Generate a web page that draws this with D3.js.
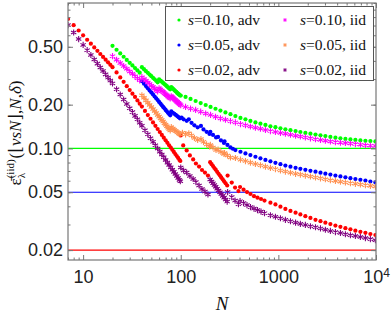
<!DOCTYPE html>
<html>
<head>
<meta charset="utf-8">
<script src="https://cdn.jsdelivr.net/npm/d3@7"></script>
<style>
  body { margin: 0; background: #fff; }
  .tick-label text { font-family: "Liberation Sans", Arial, sans-serif; font-size: 18px; fill: #222; }
  .frame-axis line { stroke: #777; stroke-width: 1; }
  .frame-axis path { display: none; }
</style>
</head>
<body>
<svg id="chart"></svg>
<script>
// eps bound vs N (N, epsilon)
const advS10 = [[20,0.508],[22,0.477],[24,0.450],[26,0.427],[28,0.406],[30,0.388],[32,0.372],[34,0.357],[36,0.344],[38,0.332],
  [40,0.362],[42,0.351],[44,0.340],[46,0.331],[48,0.322],[50,0.314],[52,0.306],[54,0.299],[56,0.292],[58,0.285],
  [60,0.299],[62,0.293],[64,0.288],[66,0.282],[68,0.277],[70,0.273],[72,0.268],[74,0.263],[76,0.259],[78,0.255],
  [80,0.264],[82,0.260],[84,0.256],[86,0.252],[88,0.248],[90,0.245],[92,0.241],[94,0.238],[96,0.235],[98,0.232],
  [100,0.231],[112,0.226],[126,0.219],[142,0.212],[160,0.205],[180,0.199],[202,0.193],[227,0.1875],[255,0.182],[287,0.177],
  [323,0.172],[363,0.167],[409,0.162],[460,0.1585],[517,0.1545],[582,0.151],[655,0.148],[737,0.145],[829,0.142],[933,0.140],
  [1050,0.1376],[1180,0.1354],[1330,0.1335],[1500,0.1316],[1680,0.1297],[1890,0.1279],[2130,0.1263],[2400,0.1245],[2700,0.1231],[3030,0.1216],
  [3410,0.1200],[3840,0.1185],[4320,0.1174],[4860,0.1163],[5470,0.1154],[6150,0.1145],[6920,0.1135],[7790,0.1128],[8760,0.1123],[9860,0.1118]];

const advS05 = [[40,0.290],[42,0.279],[44,0.2685],[46,0.259],[48,0.250],[50,0.242],[52,0.235],[54,0.2275],[56,0.221],[58,0.215],
  [60,0.209],[62,0.2035],[64,0.198],[66,0.193],[68,0.189],[70,0.184],[72,0.180],[74,0.176],[76,0.1725],[78,0.169],
  [80,0.180],[83,0.176],[86,0.173],[89,0.170],[92,0.167],[95,0.164],[98,0.161],
  [102,0.163],[107,0.1585],[115,0.1548],[121,0.1585],[129,0.1499],[138,0.1441],[149,0.1396],[161,0.1429],[171,0.1352],[184,0.1300],
  [197,0.1259],[201,0.1300],[214,0.1239],[230,0.1191],[241,0.1200],[258,0.1135],[277,0.1091],[281,0.1118],[301,0.1057],[323,0.1016],[342,0.0995],
  [363,0.0975],[409,0.0949],[460,0.0924],[517,0.0900],[582,0.0877],[655,0.0855],[737,0.0834],[829,0.0815],[933,0.0797],[1050,0.0779],
  [1180,0.0762],[1330,0.0749],[1500,0.0736],[1680,0.0724],[1890,0.0713],[2130,0.0702],[2400,0.0692],[2700,0.0681],[3030,0.0671],[3410,0.0661],
  [3840,0.0651],[4320,0.0642],[4860,0.0633],[5470,0.0625],[6150,0.0616],[6920,0.0608],[7790,0.0601],[8760,0.0592],[9860,0.0584]];

const advS02 = [[7,0.776],[8,0.704],[9,0.647],[10,0.599],[11,0.559],[12,0.525],[13,0.495],[14,0.469],[15,0.446],[16,0.426],
  [17,0.408],[18,0.391],[19,0.376],[20,0.362],[22,0.333],[24,0.308],[26,0.287],[28,0.268],[30,0.252],[32,0.238],
  [34,0.226],[36,0.214],[38,0.203],[40,0.194],[43,0.181],[46,0.1695],[49,0.160],[52,0.151],[55,0.143],[58,0.136],
  [61,0.1297],[64,0.1239],[67,0.1186],[70,0.1138],[73,0.1093],[76,0.1052],[79,0.1014],[82,0.0979],[85,0.0946],[88,0.0915],
  [91,0.0887],[94,0.0860],[97,0.0834],[99,0.082],
  [100,0.1229],[106,0.1049],[115,0.0969],[124,0.0895],[134,0.0840],[143,0.0788],[154,0.0751],[165,0.0711],[177,0.0683],[190,0.0651],
  [200,0.0805],[207,0.0780],[214,0.0756],[221,0.0734],[228,0.0714],[236,0.0691],[244,0.0670],[252,0.0651],[260,0.0632],[269,0.0613],
  [278,0.0594],[288,0.0576],[299,0.0556],
  [302,0.0651],[333,0.0583],[360,0.0538],[390,0.0509],
  [405,0.0543],[440,0.0521],[477,0.0501],[518,0.0486],[563,0.0470],[611,0.0459],[664,0.0449],[721,0.0438],
  [829,0.0424],[933,0.0412],[1050,0.0398],[1180,0.0384],[1330,0.0372],[1500,0.0362],[1680,0.0352],[1890,0.0342],[2130,0.0333],[2400,0.0323],
  [2700,0.0316],[3030,0.0309],[3410,0.0302],[3840,0.0295],[4320,0.0289],[4860,0.0283],[5470,0.0278],[6150,0.0272],[6920,0.0267],[7790,0.0263],
  [8760,0.0258],[9860,0.0254]];

const iidS10 = [[20,0.431],[22,0.407],[24,0.387],[26,0.369],[28,0.353],[30,0.338],[32,0.326],[34,0.314],[36,0.304],[38,0.294],
  [40,0.309],[42,0.300],[44,0.292],[46,0.284],[48,0.277],[50,0.270],[52,0.264],[54,0.258],[56,0.252],[58,0.247],
  [60,0.259],[62,0.254],[64,0.249],[66,0.244],[68,0.240],[70,0.236],[72,0.232],[74,0.228],[76,0.224],[78,0.221],
  [80,0.228],[82,0.225],[84,0.221],[86,0.218],[88,0.215],[90,0.212],[92,0.209],[94,0.206],[96,0.204],[98,0.201],
  [100,0.198],[112,0.193],[126,0.188],[142,0.184],[160,0.179],[180,0.174],[202,0.170],[227,0.165],[255,0.161],[287,0.1575],
  [323,0.154],[363,0.151],[409,0.147],[460,0.1443],[517,0.1416],[582,0.1389],[655,0.1365],[737,0.1339],[829,0.1316],[933,0.1297],
  [1050,0.1279],[1180,0.1261],[1330,0.1243],[1500,0.1223],[1680,0.1208],[1890,0.1191],[2130,0.1174],[2400,0.1157],[2700,0.1145],[3030,0.1130],
  [3410,0.1116],[3840,0.1105],[4320,0.1096],[4860,0.1090],[5470,0.1081],[6150,0.1071],[6920,0.1062],[7790,0.1052],[8760,0.1045],[9860,0.1041]];

const iidS05 = [[40,0.232],[42,0.223],[44,0.214],[46,0.2065],[48,0.199],[50,0.193],[52,0.1865],[54,0.181],[56,0.175],[58,0.170],
  [60,0.1655],[62,0.161],[64,0.157],[66,0.153],[68,0.149],[70,0.1456],[72,0.142],[74,0.139],[76,0.136],[78,0.133],
  [80,0.140],[83,0.137],[86,0.134],[89,0.132],[92,0.129],[95,0.127],[98,0.125],
  [104,0.128],[112,0.125],[121,0.127],[129,0.1229],[138,0.118],[149,0.1145],[161,0.116],[171,0.111],[184,0.1066],
  [197,0.1032],[201,0.1057],[214,0.1016],[230,0.0976],[241,0.0984],[258,0.0946],[277,0.0916],[281,0.0931],[301,0.0895],[323,0.0867],
  [363,0.0859],[409,0.0837],[460,0.0819],[517,0.0799],[582,0.0782],[655,0.0766],[737,0.0750],[829,0.0735],[933,0.0721],[1050,0.0706],
  [1180,0.0693],[1330,0.0681],[1500,0.0669],[1680,0.0661],[1890,0.0651],[2130,0.0641],[2400,0.0632],[2700,0.0623],[3030,0.0614],[3410,0.0605],
  [3840,0.0598],[4320,0.0590],[4860,0.0584],[5470,0.0577],[6150,0.0571],[6920,0.0565],[7790,0.0559],[8760,0.0553],[9860,0.0547]];

const iidS02 = [[7,0.705],[8,0.627],[9,0.565],[10,0.515],[11,0.474],[12,0.439],[13,0.409],[14,0.383],[15,0.3605],[16,0.3405],
  [17,0.323],[18,0.307],[19,0.2927],[20,0.280],[22,0.2553],[24,0.2347],[26,0.2172],[28,0.2021],[30,0.1891],[32,0.1777],
  [34,0.1675],[36,0.1585],[38,0.1504],[40,0.1431],[43,0.1334],[46,0.125],[49,0.1176],[52,0.111],[55,0.1051],[58,0.0999],
  [61,0.0951],[64,0.0908],[67,0.0869],[70,0.0833],[73,0.0799],[76,0.0769],[79,0.0741],[82,0.0714],[85,0.069],[88,0.0667],
  [91,0.0646],[94,0.0626],[97,0.0607],[99,0.0595],
  [100,0.0740],[107,0.0705],[115,0.0683],[124,0.0646],[134,0.0616],[143,0.0587],[154,0.0556],[165,0.0526],[177,0.0505],[190,0.0482],
  [200,0.0611],[207,0.0593],[214,0.0576],[221,0.0560],[228,0.0545],[236,0.0529],[244,0.0514],[252,0.0500],[260,0.0486],[269,0.0472],
  [278,0.0459],[288,0.0445],[299,0.0431],
  [302,0.0501],[333,0.0463],[360,0.0438],[390,0.0414],
  [405,0.0434],[440,0.0421],[477,0.0408],[518,0.0395],[563,0.0386],[611,0.0377],[664,0.0368],[721,0.0359],
  [829,0.0347],[933,0.0339],[1050,0.0331],[1180,0.0323],[1330,0.0316],[1500,0.0309],[1680,0.0303],[1890,0.0298],[2130,0.0292],[2400,0.0287],
  [2700,0.0282],[3030,0.0276],[3410,0.0271],[3840,0.0266],[4320,0.0262],[4860,0.0257],[5470,0.0253],[6150,0.0250],[6920,0.0246],[7790,0.0242],
  [8760,0.0238],[9860,0.0234]];

const sValues = ['0.10', '0.05', '0.02'];
const thresholds = [0.10, 0.05, 0.02];
const xTicks = [10, 100, 1000, 10000];
const yTicks = [0.02, 0.05, 0.1, 0.2, 0.5];
const yTickLabels = ['0.02', '0.05', '0.10', '0.20', '0.50'];

class ErrorPlot {
  constructor(_config, _adv, _iid) {
    this.config = {
      parentElement: _config.parentElement,
      containerWidth: _config.containerWidth || 392,
      containerHeight: _config.containerHeight || 315,
      margin: {top: 3, right: 16, bottom: 55, left: 68}
    };
    this.adv = _adv;
    this.iid = _iid;
    this.colors = {adv: ['#00ff00', '#0000ff', '#ff0000'], iid: ['#ff00ff', '#ff9050', '#800080']};
    this.initVis();
  }

  initVis() {
    let vis = this;
    const m = vis.config.margin;
    vis.width = vis.config.containerWidth - m.left - m.right;
    vis.height = vis.config.containerHeight - m.top - m.bottom;

    vis.svg = d3.select(vis.config.parentElement)
      .attr('width', vis.config.containerWidth)
      .attr('height', vis.config.containerHeight);

    vis.svg.append('defs').append('clipPath').attr('id', 'plot-clip')
      .append('rect').attr('width', vis.width).attr('height', vis.height);

    vis.chart = vis.svg.append('g')
      .attr('transform', `translate(${m.left},${m.top})`);

    vis.xScale = d3.scaleLog().domain([7, 10000]).range([0, vis.width]);
    vis.yScale = d3.scaleLog().domain([0.0171, 1]).range([vis.height, 0]);

    vis.symbolStar = d3.symbol(d3.symbolAsterisk).size(26);

    vis.updateVis();
  }

  updateVis() {
    let vis = this;

    // threshold lines (one per s)
    vis.chart.append('g').selectAll('line')
      .data(thresholds)
      .join('line')
        .attr('x1', 0).attr('x2', vis.width)
        .attr('y1', d => vis.yScale(d)).attr('y2', d => vis.yScale(d))
        .attr('stroke', (d, i) => vis.colors.adv[i])
        .attr('stroke-width', 1.2);

    const plot = vis.chart.append('g').attr('clip-path', 'url(#plot-clip)');

    vis.adv.forEach((series, i) => {
      plot.append('g').selectAll('circle')
        .data(series)
        .join('circle')
          .attr('cx', d => vis.xScale(d[0]))
          .attr('cy', d => vis.yScale(d[1]))
          .attr('r', 2.1)
          .attr('fill', vis.colors.adv[i]);
    });

    vis.iid.forEach((series, i) => {
      plot.append('g').selectAll('path')
        .data(series)
        .join('path')
          .attr('transform', d => `translate(${vis.xScale(d[0])},${vis.yScale(d[1])})`)
          .attr('d', vis.symbolStar)
          .attr('fill', 'none')
          .attr('stroke', vis.colors.iid[i])
          .attr('stroke-width', 1.1);
    });

    vis.drawFrame();
    vis.drawLegend();
    vis.drawLabels();
  }

  drawFrame() {
    let vis = this;
    let xMinor = [], yMinor = [];
    [1, 10, 100, 1000].forEach(dec => d3.range(2, 10).forEach(k => {
      if (dec * k >= 7 && dec * k <= 10000) xMinor.push(dec * k);
    }));
    [0.01, 0.1].forEach(dec => d3.range(2, 10).forEach(k => yMinor.push(dec * k)));
    yMinor.push(1);

    const addAxis = (axis, transform, values, size) => {
      vis.chart.append('g')
        .attr('class', 'frame-axis')
        .attr('transform', transform)
        .call(axis.tickValues(values).tickSize(size).tickFormat(''));
    };
    const bottom = `translate(0,${vis.height})`, right = `translate(${vis.width},0)`;
    addAxis(d3.axisBottom(vis.xScale), bottom, xMinor, -2.5);
    addAxis(d3.axisTop(vis.xScale), '', xMinor, -2.5);
    addAxis(d3.axisBottom(vis.xScale), bottom, xTicks, -5);
    addAxis(d3.axisTop(vis.xScale), '', xTicks, -5);
    addAxis(d3.axisLeft(vis.yScale), '', yMinor, -2.5);
    addAxis(d3.axisRight(vis.yScale), right, yMinor, -2.5);
    addAxis(d3.axisLeft(vis.yScale), '', yTicks, -5);
    addAxis(d3.axisRight(vis.yScale), right, yTicks, -5);

    vis.chart.append('rect')
      .attr('width', vis.width).attr('height', vis.height)
      .attr('fill', 'none').attr('stroke', '#777').attr('stroke-width', 1.2);

    // tick labels
    const xLab = vis.chart.append('g')
      .attr('class', 'tick-label')
      .attr('transform', bottom)
      .call(d3.axisBottom(vis.xScale).tickValues(xTicks).tickSize(0).tickPadding(10.7)
        .tickFormat(d => d === 10000 ? '10' : d3.format('d')(d)));
    xLab.select('.domain').remove();
    xLab.selectAll('text').filter(d => d === 10000)
      .append('tspan').attr('dy', '-0.55em').style('font-size', '12px').text('4');

    const yLab = vis.chart.append('g')
      .attr('class', 'tick-label')
      .call(d3.axisLeft(vis.yScale).tickValues(yTicks).tickSize(0).tickPadding(5)
        .tickFormat((d, i) => yTickLabels[i]));
    yLab.select('.domain').remove();
  }

  drawLegend() {
    let vis = this;
    const lg = vis.svg.append('g');
    lg.append('rect')
      .attr('x', 165.5).attr('y', 6.5).attr('width', 208).attr('height', 74)
      .attr('fill', '#fff').attr('stroke', '#555').attr('stroke-width', 1);

    const rows = [20, 45, 70];
    ['adv', 'iid'].forEach((kind, c) => {
      const mx = c === 0 ? 179 : 285, tx = c === 0 ? 188 : 300;
      sValues.forEach((s, i) => {
        const color = vis.colors[kind][i];
        if (kind === 'adv') {
          lg.append('circle').attr('cx', mx).attr('cy', rows[i]).attr('r', 1.6).attr('fill', color);
        } else {
          lg.append('path')
            .attr('transform', `translate(${mx},${rows[i]})`)
            .attr('d', d3.symbol(d3.symbolAsterisk).size(10))
            .attr('fill', 'none').attr('stroke', color).attr('stroke-width', 1);
        }
        const t = lg.append('text')
          .attr('x', tx).attr('y', rows[i] + 5)
          .style('font-family', '"Liberation Serif", "Times New Roman", serif')
          .style('font-size', '15.5px').attr('fill', '#111');
        t.append('tspan').style('font-style', 'italic').text('s');
        t.append('tspan').text(`=${s}, ${kind}`);
      });
    });
  }

  drawLabels() {
    let vis = this;
    vis.svg.append('text')
      .attr('x', 222).attr('y', 310)
      .attr('text-anchor', 'middle')
      .style('font-family', '"Liberation Serif", serif')
      .style('font-size', '19px').style('font-style', 'italic')
      .attr('fill', '#111')
      .text('N');

    // rotated y label, sup/sub stacked by hand
    const lab = vis.svg.append('text')
      .attr('transform', 'translate(21,133) rotate(-90)')
      .attr('text-anchor', 'middle')
      .style('font-family', '"Liberation Serif", "DejaVu Serif", serif')
      .style('font-size', '17px')
      .attr('fill', '#111');
    lab.append('tspan').text('\u03B5\u0304');
    const sup = lab.append('tspan').attr('dy', -7).style('font-size', '11px').text('(iid)');
    const sub = lab.append('tspan').style('font-size', '11px').text('\u03BB');
    const supW = sup.node().getComputedTextLength();
    const subW = sub.node().getComputedTextLength();
    sub.attr('dx', -supW).attr('dy', 11);
    const parts = [['(\u230A', false], ['\u03BDsN', true], ['\u230B,', false], ['N', true], [',', false], ['\u03B4', true], [')', false]];
    parts.forEach((p, i) => {
      const ts = lab.append('tspan').text(p[0]).style('font-style', p[1] ? 'italic' : 'normal');
      if (i === 0) ts.attr('dx', supW - subW + 1).attr('dy', -4);
    });
  }
}

new ErrorPlot({parentElement: '#chart'}, [advS10, advS05, advS02], [iidS10, iidS05, iidS02]);
</script>
</body>
</html>
